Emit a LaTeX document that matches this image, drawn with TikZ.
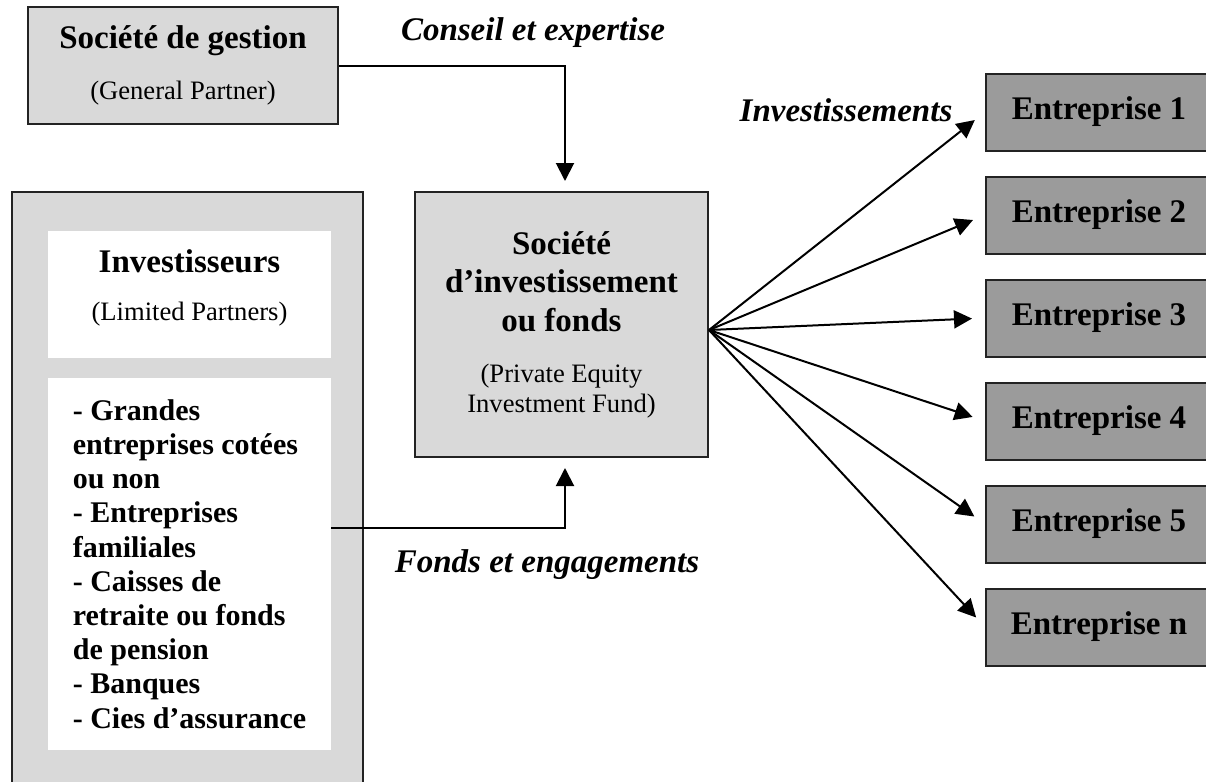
\documentclass[tikz,border=0pt]{standalone}
\usepackage{fontspec}
\setmainfont{Liberation Serif}
\usetikzlibrary{arrows.meta}

\definecolor{boxgray}{RGB}{217,217,217}
\definecolor{firmgray}{RGB}{155,155,155}
\definecolor{edgegray}{RGB}{35,35,35}

\newcommand{\headfont}{\fontsize{16.5}{19.3}\selectfont\bfseries}
\newcommand{\subfont}{\fontsize{13.3}{15}\selectfont\mdseries}
\newcommand{\listfont}{\fontsize{15}{17.1}\selectfont\bfseries}
\newcommand{\flowfont}{\fontsize{16.5}{19.3}\selectfont\bfseries\itshape}

\begin{document}
\begin{tikzpicture}[x=0.5pt,y=-0.5pt,
    box/.style={draw=edgegray,line width=1pt,fill=boxgray,inner sep=0pt,align=center,font=\headfont},
    inner/.style={fill=white,inner sep=0pt},
    firm/.style={draw=edgegray,line width=1pt,fill=firmgray,minimum width=113pt,minimum height=38.5pt,inner sep=0pt,font=\headfont},
    flow/.style={line width=1pt,-{Triangle[length=9pt,width=9pt]},shorten >=5pt},
    tag/.style={font=\flowfont,inner sep=0pt}]
    \useasboundingbox (0,0) rectangle (1206,782);

    % management company
    \node[box,minimum width=155pt,minimum height=58.5pt] (gestion) at (183,65.5)
        {Société de gestion\\[6.2pt]\subfont (General Partner)};

    % investors panel
    \draw[draw=edgegray,line width=1pt,fill=boxgray] (12,192) rectangle (363,800);
    \node[inner,minimum width=141.5pt,minimum height=63.5pt,align=center,font=\headfont] (investors) at (189.5,294.5)
        {Investisseurs\\[4.7pt]\subfont (Limited Partners)\\[-10.3pt]\mbox{}};
    \node[inner,minimum width=141.5pt,minimum height=186pt,align=left,font=\listfont] (backers) at (189.5,564)
        {- Grandes\\entreprises cotées\\ou non\\- Entreprises\\familiales\\- Caisses de\\retraite ou fonds\\de pension\\- Banques\\- Cies d’assurance};

    % the fund
    \node[box,minimum width=146.5pt,minimum height=132.5pt] (fund) at (561.5,324.5)
        {Société\\d’investissement\\ou fonds\\[6.2pt]\subfont (Private Equity\\[-4.3pt]\subfont Investment Fund)};

    % portfolio companies
    \foreach \k/\lbl in {0/1,1/2,2/3,3/4,4/5,5/n}
        \node[firm] (firm\lbl) at (1099,112+103*\k) {Entreprise \lbl};

    % flows
    \draw[flow] (gestion.east) -| ([xshift=1.75pt]fund.north);
    \draw[flow] ([yshift=18pt]backers.east) -| ([xshift=1.75pt]fund.south);
    \foreach \lbl in {1,2,3,4,5,n}
        \draw[flow,shorten >=6.5pt] ([yshift=-2.75pt]fund.east) -- (firm\lbl.west);

    \node[tag] (advice) at (533,33) {Conseil et expertise};
    \node[tag] (funding) at (547,565) {Fonds et engagements};
    \node[tag] (invest) at (846,110) {Investissements};
\end{tikzpicture}
\end{document}
